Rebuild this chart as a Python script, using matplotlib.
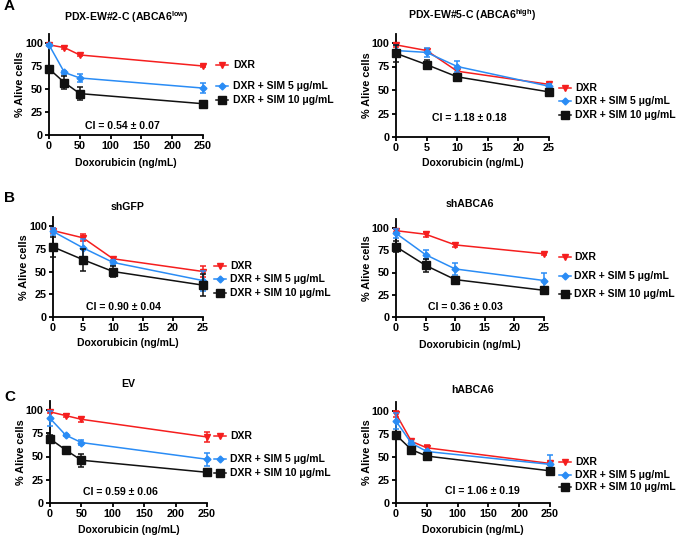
import numpy as np
import matplotlib
matplotlib.use("Agg")
import matplotlib.pyplot as plt
from matplotlib.lines import Line2D

plt.rcParams['font.family'] = ['Liberation Sans', 'DejaVu Sans']
plt.rcParams['font.weight'] = 'bold'

# ---- data ----
dose_pdx = [0, 25, 50, 250]
dose_sh = [0, 5, 10, 25]

titles = ["PDX-EW#2-C (ABCA6$^{\\mathregular{low}}$)", "PDX-EW#5-C (ABCA6$^{\\mathregular{high}}$)",
          "shGFP", "shABCA6", "EV", "hABCA6"]
ci_labels = ["CI = 0.54 \u00b1 0.07", "CI = 1.18 \u00b1 0.18", "CI = 0.90 \u00b1 0.04",
             "CI = 0.36 \u00b1 0.03", "CI = 0.59 \u00b1 0.06", "CI = 1.06 \u00b1 0.19"]
series_names = ["DXR", "DXR + SIM 5 \u03bcg/mL", "DXR + SIM 10 \u03bcg/mL"]

# PDX-EW#2-C
pdx2_dxr = [98, 95, 87, 75]
pdx2_dxr_err = [1, 1.5, 1.5, 1.5]
pdx2_sim5 = [98, 68, 62, 51]
pdx2_sim5_err = [0.5, 2, 4, 5]
pdx2_sim10 = [72, 57, 45, 34]
pdx2_sim10_err = [2, 7, 7, 3]

# PDX-EW#5-C
pdx5_dxr = [98, 92, 70, 56]
pdx5_dxr_err = [2, 2, 3, 1.5]
pdx5_sim5 = [92, 90, 75, 54]
pdx5_sim5_err = [6, 5, 6, 2]
pdx5_sim10 = [89, 77, 64, 48]
pdx5_sim10_err = [9, 5, 2, 3]

# shGFP
shgfp_dxr = [95, 87, 64, 50]
shgfp_dxr_err = [3, 4, 2, 6]
shgfp_sim5 = [94, 76, 60, 40]
shgfp_sim5_err = [4, 10, 3, 11]
shgfp_sim10 = [77, 63, 50, 35]
shgfp_sim10_err = [11, 12, 6, 12]

# shABCA6
shabca6_dxr = [97, 93, 81, 71]
shabca6_dxr_err = [2, 3, 2, 1]
shabca6_sim5 = [94, 70, 54, 41]
shabca6_sim5_err = [5, 5, 7, 8]
shabca6_sim10 = [79, 58, 42, 30]
shabca6_sim10_err = [6, 7, 2, 2]

# EV
ev_dxr = [98, 94, 90, 71]
ev_dxr_err = [1, 2, 3, 5]
ev_sim5 = [91, 73, 65, 47]
ev_sim5_err = [8, 1, 3, 7]
ev_sim10 = [69, 57, 46, 33]
ev_sim10_err = [4, 3, 7, 3]

# hABCA6
habca6_dxr = [97, 67, 60, 43]
habca6_dxr_err = [3, 2, 3, 2]
habca6_sim5 = [89, 65, 56, 42]
habca6_sim5_err = [9, 2, 2, 10]
habca6_sim10 = [74, 58, 51, 35]
habca6_sim10_err = [2, 2, 2, 3]

panels = [
    (dose_pdx, [pdx2_dxr, pdx2_sim5, pdx2_sim10], [pdx2_dxr_err, pdx2_sim5_err, pdx2_sim10_err]),
    (dose_sh, [pdx5_dxr, pdx5_sim5, pdx5_sim10], [pdx5_dxr_err, pdx5_sim5_err, pdx5_sim10_err]),
    (dose_sh, [shgfp_dxr, shgfp_sim5, shgfp_sim10], [shgfp_dxr_err, shgfp_sim5_err, shgfp_sim10_err]),
    (dose_sh, [shabca6_dxr, shabca6_sim5, shabca6_sim10], [shabca6_dxr_err, shabca6_sim5_err, shabca6_sim10_err]),
    (dose_pdx, [ev_dxr, ev_sim5, ev_sim10], [ev_dxr_err, ev_sim5_err, ev_sim10_err]),
    (dose_pdx, [habca6_dxr, habca6_sim5, habca6_sim10], [habca6_dxr_err, habca6_sim5_err, habca6_sim10_err]),
]

colors = ['#F51E1E', '#2A8CF5', '#111111']
markers = ['v', 'D', 's']
msizes = [5, 3.5, 5.5]

# ---- layout in pixels: left, right, y of 0, y of 100 ----
W, H = 676, 537
rects = [(49, 203, 135, 43), (396, 549, 137, 43),
         (53, 203, 317, 226), (396, 544, 317, 228),
         (50, 207, 503, 410), (396, 550, 503, 411)]
title_y = [17, 15, 207, 204, 384, 390]
xlabel_y = [163, 163, 343, 345, 530, 530]
ci_pos = [(0.48, 0.09), (0.48, 0.18), (0.47, 0.10), (0.47, 0.10), (0.45, 0.11), (0.56, 0.12)]
leg_x = [(222, 233), (565, 575), (220, 230), (565, 574), (220, 230), (565, 575)]
leg_y = [(65, 86, 100), (88, 101, 115), (266, 279, 293),
         (257, 276, 294), (436, 459, 473), (462, 475, 487)]

fig = plt.figure(figsize=(W / 100, H / 100), dpi=100)

for i, (x, ys, errs) in enumerate(panels):
    L, R, B, Y100 = rects[i]
    per = (B - Y100) / 100.0
    top = B - 110 * per
    ax = fig.add_axes([L / W, 1 - B / H, (R - L) / W, (B - top) / H])
    xmax = x[-1]
    for k in range(3):
        ax.errorbar(x, ys[k], yerr=errs[k], color=colors[k], marker=markers[k],
                    ms=msizes[k], lw=1.1, elinewidth=1.1, capsize=2.5, capthick=1.1,
                    clip_on=False, zorder=3 + k)
    ax.set_xlim(0, xmax)
    ax.set_ylim(0, 110)
    ax.set_yticks([0, 25, 50, 75, 100])
    if xmax == 250:
        ax.set_xticks([0, 50, 100, 150, 200, 250])
    else:
        ax.set_xticks([0, 5, 10, 15, 20, 25])
    for s in ['top', 'right']:
        ax.spines[s].set_visible(False)
    for s in ['left', 'bottom']:
        ax.spines[s].set_linewidth(1.3)
    ax.tick_params(width=1.3, length=3, labelsize=7.8, pad=1.5)
    for lab in ax.get_xticklabels() + ax.get_yticklabels():
        lab.set_fontweight('bold')
    ax.set_ylabel("% Alive cells", fontsize=7.8, fontweight='bold', labelpad=0)
    ax.text(ci_pos[i][0], ci_pos[i][1], ci_labels[i], transform=ax.transAxes,
            ha='center', va='center', fontsize=7.6, fontweight='bold')

    cx = (L + R) / 2 / W
    fig.text(cx, 1 - title_y[i] / H, titles[i], ha='center', va='center',
             fontsize=7.6, fontweight='bold')
    fig.text(cx, 1 - xlabel_y[i] / H, "Doxorubicin (ng/mL)", ha='center', va='center',
             fontsize=7.5, fontweight='bold')

    # legend entries placed beside the line ends
    mx, tx = leg_x[i]
    for k in range(3):
        yy = 1 - leg_y[i][k] / H
        fig.add_artist(Line2D([(mx - 6) / W, (mx + 6) / W], [yy, yy], color=colors[k],
                              lw=1.1, transform=fig.transFigure))
        fig.add_artist(Line2D([mx / W], [yy], color=colors[k], marker=markers[k],
                              ms=msizes[k], transform=fig.transFigure))
        fig.text(tx / W, yy, series_names[k], ha='left', va='center',
                 fontsize=7.5, fontweight='bold')

for letter, py in [("A", 6), ("B", 198), ("C", 397)]:
    fig.text(4 / W, 1 - py / H, letter, ha='left', va='center', fontsize=11, fontweight='bold')

fig.savefig("out.png", dpi=100)
